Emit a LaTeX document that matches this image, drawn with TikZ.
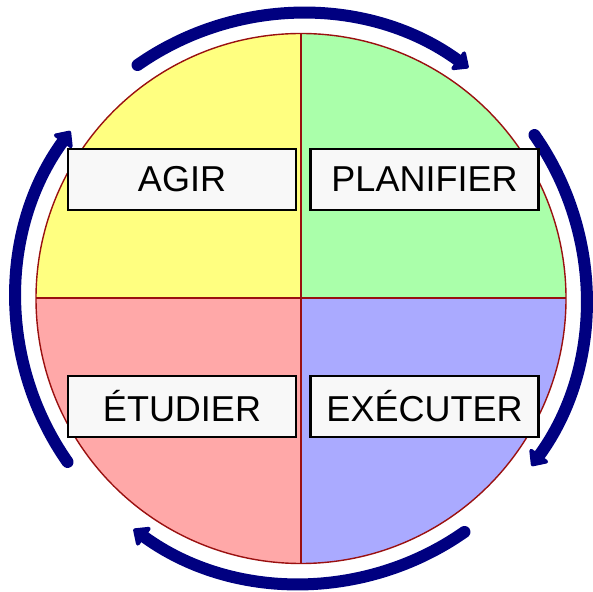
\documentclass[tikz,border=0pt]{standalone}
\usepackage{fontspec}
\setmainfont{Liberation Sans}
\usetikzlibrary{arrows.meta,calc}

\definecolor{agirY}{HTML}{FFFF80}
\definecolor{planG}{HTML}{AAFFAA}
\definecolor{etudR}{HTML}{FFA8A8}
\definecolor{execB}{HTML}{AAAAFF}
\definecolor{rim}{HTML}{9A1010}
\definecolor{navy}{HTML}{000080}

\begin{document}
\begin{tikzpicture}[x=1pt,y=1pt,
  phase/.style={draw=black,line width=2.4pt,fill={rgb,255:red,248;green,248;blue,248},
    minimum width=228pt,minimum height=61pt,inner sep=0pt,font=\fontsize{36}{40}\selectfont},
  cyc/.style={draw=navy,line width=12pt,line cap=round,-{Triangle[width=26pt,length=15pt,round]}}]
  \useasboundingbox (0,0) rectangle (593,591);
  \coordinate (c) at (301,292.5);
  % quadrants
  \fill[agirY] (c) -- ++(180:265) arc[start angle=180,end angle=90,radius=265] -- cycle;
  \fill[planG] (c) -- ++(90:265) arc[start angle=90,end angle=0,radius=265] -- cycle;
  \fill[execB] (c) -- ++(0:265) arc[start angle=0,end angle=-90,radius=265] -- cycle;
  \fill[etudR] (c) -- ++(-90:265) arc[start angle=-90,end angle=-180,radius=265] -- cycle;
  \draw[rim,line width=1.4pt] (c) circle[radius=265];
  \draw[rim,line width=2pt] ($(c)+(0,265)$) -- ($(c)+(0,-265)$);
  \draw[rim,line width=2pt] ($(c)+(-265,0)$) -- ($(c)+(265,0)$);
  % cycle arrows
  \draw[cyc] ($(c)+(125:285)$) arc[start angle=125,end angle=54,radius=285];
  \draw[cyc] ($(c)+(35:285)$) arc[start angle=35,end angle=-36,radius=285];
  \draw[cyc] ($(c)+(-55:285)$) arc[start angle=-55,end angle=-126,radius=285];
  \draw[cyc] ($(c)+(215:285)$) arc[start angle=215,end angle=144,radius=285];
  % labels
  \node[phase] (agir) at ($(c)+(-119,119)$) {AGIR};
  \node[phase] (planifier) at ($(c)+(123.5,119)$) {PLANIFIER};
  \node[phase] (etudier) at ($(c)+(-119,-108)$) {ÉTUDIER};
  \node[phase] (executer) at ($(c)+(123.5,-108)$) {EXÉCUTER};
\end{tikzpicture}
\end{document}
